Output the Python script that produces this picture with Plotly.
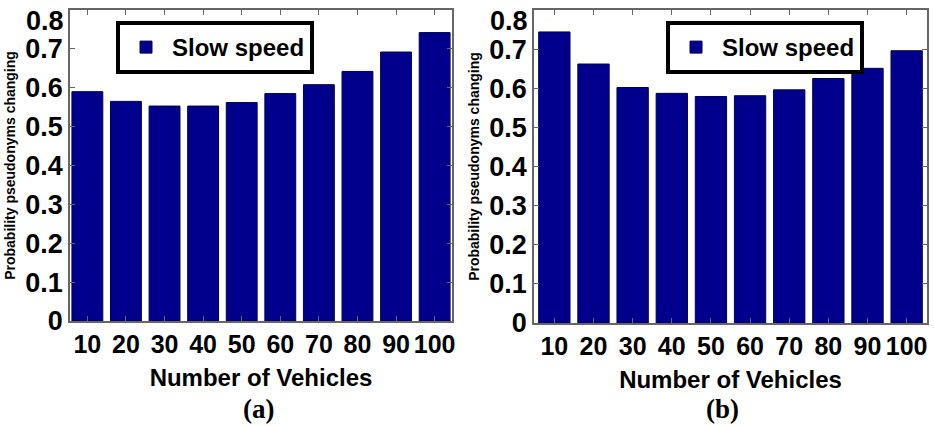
import plotly.graph_objects as go

vehicles = ["10", "20", "30", "40", "50", "60", "70", "80", "90", "100"]
prob_a = [0.590, 0.565, 0.553, 0.553, 0.562, 0.585, 0.608, 0.642, 0.692, 0.742]
prob_b = [0.744, 0.662, 0.602, 0.587, 0.579, 0.581, 0.596, 0.625, 0.651, 0.696]
series_name = "Slow speed"
y_ticks = [0, 0.1, 0.2, 0.3, 0.4, 0.5, 0.6, 0.7, 0.8]
y_ticktext = ["0", "0.1", "0.2", "0.3", "0.4", "0.5", "0.6", "0.7", "0.8"]

W, H = 934, 426
FONT = "Arial, 'Liberation Sans', sans-serif"
BAR = "#00008c"
TICKFONT_Y = dict(family=FONT, size=27, color="black", weight="bold")

fig = go.Figure()
fig.add_trace(go.Bar(x=vehicles, y=prob_a, name=series_name, marker=dict(color=BAR, line=dict(color="#000050", width=1)),
                     xaxis="x", yaxis="y", legend="legend", width=0.8, showlegend=True))
fig.add_trace(go.Bar(x=vehicles, y=prob_b, name=series_name, marker=dict(color=BAR, line=dict(color="#000050", width=1)),
                     xaxis="x2", yaxis="y2", legend="legend2", width=0.8, showlegend=True))

def xax(domain, rng):
    return dict(domain=domain, type="category", range=rng, showline=True, linecolor="#666", linewidth=1.5,
                mirror="allticks", ticks="inside", ticklen=5, tickcolor="#666", tickangle=0,
                tickfont=dict(family=FONT, size=25, color="black", weight="bold"),
                title=dict(text="<b>Number of Vehicles</b>", font=dict(family=FONT, size=24, color="black"), standoff=12),
                showgrid=False, zeroline=False, automargin=False, fixedrange=True, ticklabeloverflow="allow")

# the top label (0.8) sits slightly below its tick in the reference, drawn as an annotation below
axis_ticktext = y_ticktext[:-1] + [""]

def yax(domain, anchor):
    return dict(domain=domain, anchor=anchor, range=[0, 0.8001], tickvals=y_ticks, ticktext=axis_ticktext,
                showline=True, linecolor="#666", linewidth=1.5, mirror="allticks", ticks="inside", ticklen=5,
                tickcolor="#666", tickfont=TICKFONT_Y,
                title=dict(text="<b>Probability pseudonyms changing</b>", font=dict(family=FONT, size=14, color="black"), standoff=6),
                showgrid=False, zeroline=False, automargin=False, fixedrange=True, ticklabeloverflow="allow")

legend_common = dict(bgcolor="white", bordercolor="black", borderwidth=4,
                     font=dict(family=FONT, size=24, color="black", weight="bold"),
                     xanchor="left", yanchor="top", itemclick=False, itemdoubleclick=False,
                     itemwidth=42, entrywidth=150, tracegroupgap=0)

top_labels = [
    dict(text=y_ticktext[-1], x=0, y=y_ticks[-1], xref=f"{xa} domain", yref=ya, xanchor="right", yanchor="middle",
         xshift=-4, yshift=-11, showarrow=False, font=TICKFONT_Y)
    for xa, ya in (("x", "y"), ("x2", "y2"))
]

fig.update_layout(
    width=W, height=H, margin=dict(l=0, r=0, t=0, b=0),
    paper_bgcolor="white", plot_bgcolor="white", showlegend=True,
    xaxis=dict(**xax([70 / W, 452 / W], [-0.45, 9.45]), anchor="y"),
    yaxis=yax([105 / H, 416 / H], "x"),
    xaxis2=dict(**xax([534 / W, 927 / W], [-0.52, 9.52]), anchor="y2"),
    yaxis2=yax([103 / H, 416 / H], "x2"),
    legend=dict(**legend_common, x=116 / W, y=1 - 21 / H),
    legend2=dict(**legend_common, x=666 / W, y=1 - 21 / H),
    bargap=0.2,
    annotations=top_labels + [
        dict(text="<b>(a)</b>", x=258 / W, y=1 - 409 / H, xref="paper", yref="paper", showarrow=False,
             xanchor="center", yanchor="middle",
             font=dict(family="'Liberation Serif', 'Times New Roman', serif", size=27, color="black")),
        dict(text="<b>(b)</b>", x=722 / W, y=1 - 409 / H, xref="paper", yref="paper", showarrow=False,
             xanchor="center", yanchor="middle",
             font=dict(family="'Liberation Serif', 'Times New Roman', serif", size=27, color="black")),
    ],
)

fig.write_html("out.html")
